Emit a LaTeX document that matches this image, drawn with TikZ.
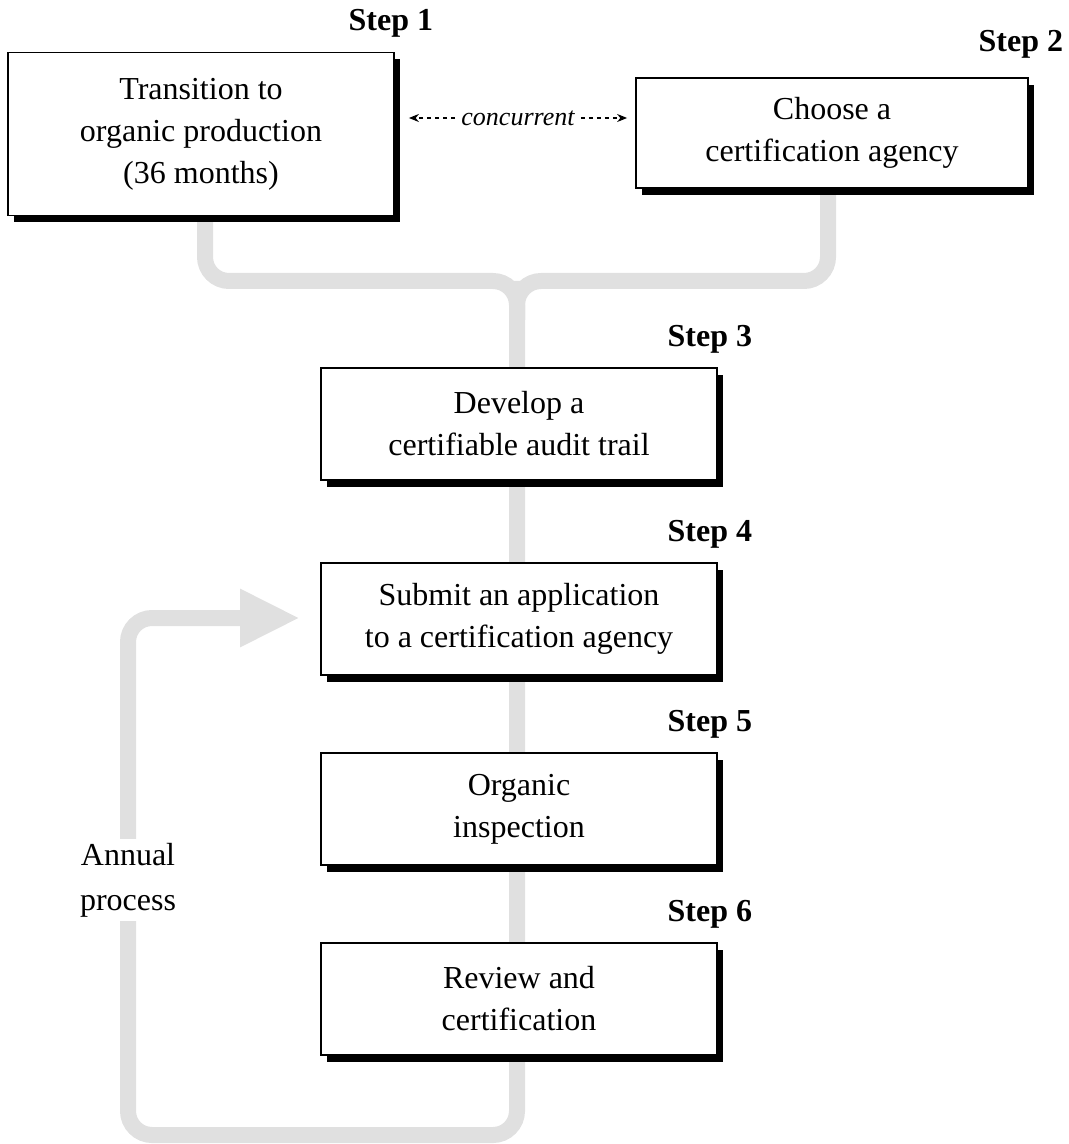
\documentclass[tikz,border=0pt]{standalone}
\usepackage{fontspec}
\setmainfont{Liberation Serif}
\usetikzlibrary{arrows.meta}
\usetikzlibrary{shadows}
\usetikzlibrary{backgrounds}
\usetikzlibrary{positioning}

\begin{document}
\begin{tikzpicture}[x=0.5pt, y=-0.5pt,
    stepbox/.style={draw, fill=white, line width=0.9pt, align=center, inner sep=0pt,
        font=\fontsize{16}{21}\selectfont,
        drop shadow={shadow xshift=3pt, shadow yshift=-3.5pt, fill=black, opacity=1}},
    steplabel/.style={font=\fontsize{16}{19}\selectfont\bfseries, inner sep=0pt},
    flow/.style={line width=8pt, draw=black!12, rounded corners=12pt},
    concarrow/.style={-{Stealth[length=5pt,width=4pt]}, dash pattern=on 2pt off 2pt, line width=0.6pt}]
    \useasboundingbox (0,0) rectangle (1069,1144);

    \node (trans) at (201,134) [stepbox, minimum width=193pt, minimum height=81.5pt] {Transition to\\organic production\\(36 months)};
    \node (choose) at (832,133) [stepbox, minimum width=196pt, minimum height=55pt] {Choose a\\certification agency};
    \node (audit) at (519,424) [stepbox, minimum width=198pt, minimum height=56pt] {Develop a\\certifiable audit trail};
    \node (submit) at (519,619) [stepbox, minimum width=198pt, minimum height=56pt] {Submit an application\\to a certification agency};
    \node (inspect) at (519,809) [stepbox, minimum width=198pt, minimum height=56pt] {Organic\\inspection};
    \node (review) at (519,999) [stepbox, minimum width=198pt, minimum height=56pt] {Review and\\certification};

    \node (s1) [steplabel, above=7pt of trans.north east, xshift=-2pt] {Step 1};
    \node (s2) [steplabel, above=9pt of choose.north east, xshift=-4pt] {Step 2};
    \node (s3) [steplabel, above=6.5pt of audit.north east, xshift=-4pt] {Step 3};
    \node (s4) [steplabel, above=6.5pt of submit.north east, xshift=-4pt] {Step 4};
    \node (s5) [steplabel, above=6.5pt of inspect.north east, xshift=-4pt] {Step 5};
    \node (s6) [steplabel, above=6.5pt of review.north east, xshift=-4pt] {Step 6};

    \node (conc) at (518,118) [font=\fontsize{13}{15}\selectfont\itshape, inner sep=3pt] {concurrent};
    \draw [concarrow, shorten >=7pt] (conc.west) -- (conc.west -| trans.east);
    \draw [concarrow, shorten >=4pt] (conc.east) -- (conc.east -| choose.west);

    \node (annual) at (128,880) [fill=white, align=center, inner sep=2pt, font=\fontsize{16}{22.5}\selectfont] {Annual\\process};

    \coordinate (join) at (517,281);
    \coordinate (joinlow) at (517,320);
    \coordinate (loopturn) at (128,1135);
    \coordinate (tip) at (300,618);

    % grey flow behind the boxes
    \begin{scope}[on background layer]
        \draw [flow] ([xshift=2pt]trans.south) |- (join) [rounded corners=4pt] -- (joinlow);
        \draw [flow] ([xshift=-2pt]choose.south) |- (join) [rounded corners=4pt] -- (joinlow);
        \draw [flow, -{Triangle[length=30pt,width=27pt]}] (join) |- (loopturn) |- (tip);
    \end{scope}
\end{tikzpicture}
\end{document}
